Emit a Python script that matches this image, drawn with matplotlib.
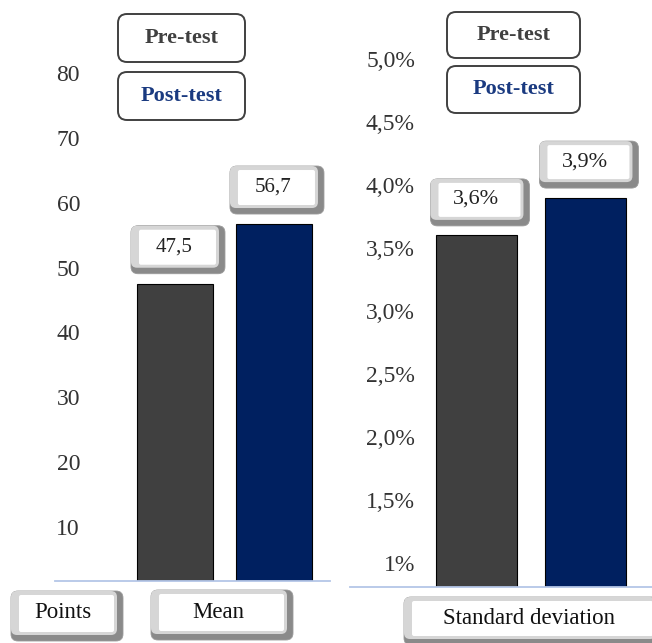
import matplotlib
matplotlib.use("Agg")
import matplotlib.pyplot as plt
from matplotlib.patches import FancyBboxPatch

# ---------------- data ----------------
categories = ["Pre-test", "Post-test"]
mean_values = [47.5, 56.7]
sd_values = [3.6, 3.9]
mean_value_labels = ["47,5", "56,7"]
sd_value_labels = ["3,6%", "3,9%"]
mean_ticks = [10, 20, 30, 40, 50, 60, 70, 80]
mean_ticklabels = ["10", "20", "30", "40", "50", "60", "70", "80"]
sd_ticks = [1.0, 1.5, 2.0, 2.5, 3.0, 3.5, 4.0, 4.5, 5.0]
sd_ticklabels = ["1%", "1,5%", "2,0%", "2,5%", "3,0%", "3,5%", "4,0%", "4,5%", "5,0%"]
unit_label = "Points"
mean_label = "Mean"
sd_label = "Standard deviation"

# ---------------- style ----------------
W, H, DPI = 652, 643, 100
bar_colors = ["#404040", "#002060"]
legend_text_colors = ["#404040", "#1a3a80"]
SERIF = ["Liberation Serif", "DejaVu Serif"]
plt.rcParams["font.family"] = SERIF

fig = plt.figure(figsize=(W / DPI, H / DPI), dpi=DPI)
fig.patch.set_facecolor("white")


def px_axes(left, right, bottom_px):
    return fig.add_axes([left / W, (H - bottom_px) / H, (right - left) / W, bottom_px / H])


def px2in(x, y):
    return x / DPI, (H - y) / DPI


def bevel_box(cx, cy, w, h, text, fontsize=13, color="#222222"):
    x0, y0 = cx - w / 2, cy - h / 2
    tr = fig.dpi_scale_trans
    # dark outer (right/bottom shading)
    bx, by = px2in(x0, y0 + h)
    fig.patches.append(FancyBboxPatch((bx, by), w / DPI, h / DPI,
                                      boxstyle="round,pad=0,rounding_size=0.07",
                                      fc="#8a8a8a", ec="#9a9a9a", lw=0.6, transform=tr, figure=fig))
    # light highlight (left/top)
    bx, by = px2in(x0, y0 + h - 6)
    fig.patches.append(FancyBboxPatch((bx, by), (w - 6) / DPI, (h - 6) / DPI,
                                      boxstyle="round,pad=0,rounding_size=0.06",
                                      fc="#d6d6d6", ec="none", transform=tr, figure=fig))
    # white face
    bx, by = px2in(x0 + 8, y0 + h - 9)
    fig.patches.append(FancyBboxPatch((bx, by), (w - 17) / DPI, (h - 13) / DPI,
                                      boxstyle="round,pad=0,rounding_size=0.02",
                                      fc="white", ec="none", transform=tr, figure=fig))
    tx, ty = px2in(cx - 4, cy - 3)
    fig.text(tx / (W / DPI), ty / (H / DPI), text, ha="center", va="center",
             fontsize=fontsize, color=color)


def legend_box(x0, y0, w, h, text, color):
    bx, by = px2in(x0, y0 + h)
    fig.patches.append(FancyBboxPatch((bx, by), w / DPI, h / DPI,
                                      boxstyle="round,pad=0,rounding_size=0.09",
                                      fc="white", ec="#404040", lw=1.4,
                                      transform=fig.dpi_scale_trans, figure=fig))
    tx, ty = px2in(x0 + w / 2, y0 + h / 2)
    fig.text(tx / (W / DPI), ty / (H / DPI), text, ha="center", va="center",
             fontsize=16, fontweight="bold", color=color)


def style_axes(ax):
    for s in ["left", "right", "top"]:
        ax.spines[s].set_visible(False)
    ax.spines["bottom"].set_color("#b4c6e7")
    ax.spines["bottom"].set_linewidth(1.3)
    ax.set_xticks([])
    ax.set_facecolor("none")


# ---------------- left panel (mean) ----------------
axL = px_axes(55, 330, 581)
# y_px = 592 - 6.49 * v
axL.set_ylim((592 - 581) / 6.49, 592 / 6.49)
axL.set_xlim(-1.212, 1.566)
xs = [0, 1]
axL.bar(xs, mean_values, width=0.77, color=bar_colors, edgecolor="black", linewidth=0.8)
axL.set_yticks(mean_ticks, mean_ticklabels)
axL.tick_params(axis="y", length=0, pad=-25 * 72 / DPI, labelsize=17, labelcolor="#333333")
style_axes(axL)

# ---------------- right panel (standard deviation) ----------------
axR = px_axes(350, 652, 587)
# y_px = 563 - 126 * (v - 1)
axR.set_ylim(1 - (587 - 563) / 126, 1 + 563 / 126)
axR.set_xlim(-1.165, 1.606)
axR.bar(xs, sd_values, width=0.743, color=bar_colors, edgecolor="black", linewidth=0.8)
axR.set_yticks(sd_ticks, sd_ticklabels)
axR.tick_params(axis="y", length=0, pad=-65 * 72 / DPI, labelsize=17, labelcolor="#333333")
style_axes(axR)

# ---------------- value label boxes ----------------
fig.canvas.draw()
for ax, vals, labs, off, size, fs in [(axL, mean_values, mean_value_labels, 34, (94, 48), 15),
                                      (axR, sd_values, sd_value_labels, 33, (99, 47), 16)]:
    for i, (v, lab) in enumerate(zip(vals, labs)):
        dx, dy = ax.transData.transform((xs[i], v))
        cx, top = dx, H - dy
        bevel_box(cx + 3, top - off, size[0], size[1], lab, fontsize=fs)

# ---------------- legends ----------------
legend_box(118, 14, 127, 48, categories[0], legend_text_colors[0])
legend_box(118, 72, 127, 48, categories[1], legend_text_colors[1])
legend_box(447, 12, 133, 46, categories[0], legend_text_colors[0])
legend_box(447, 66, 133, 47, categories[1], legend_text_colors[1])

# ---------------- bottom category boxes ----------------
bevel_box(67, 616, 112, 50, unit_label, fontsize=16.5, color="#111111")
bevel_box(222, 615, 142, 50, mean_label, fontsize=16.5, color="#111111")
bevel_box(533, 621, 258, 48, sd_label, fontsize=16.5, color="#111111")

fig.savefig("out.png", dpi=DPI, facecolor="white")
